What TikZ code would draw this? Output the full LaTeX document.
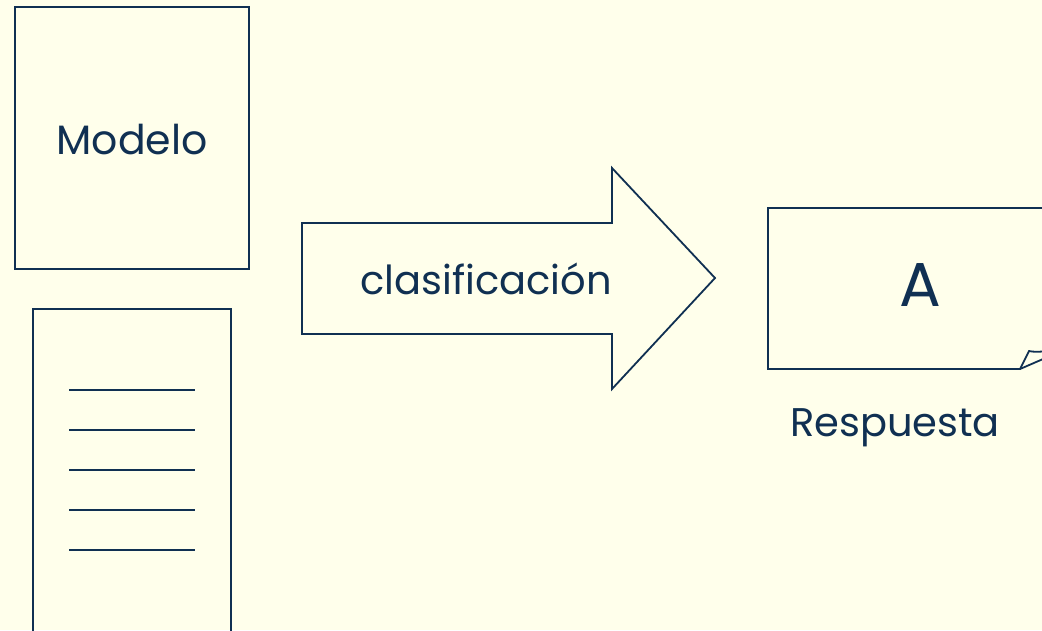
\documentclass[tikz,border=0pt]{standalone}
\usepackage{fontspec}
\setmainfont{Poppins}
\definecolor{bg}{RGB}{255,255,235}
\definecolor{ink}{RGB}{16,48,82}
\begin{document}
\begin{tikzpicture}[x=1pt,y=-1pt,
  outline/.style={draw=ink,line width=1.8pt},
  rule/.style={draw=ink,line width=2pt},
  lbl/.style={text=ink,inner sep=0pt,anchor=center}]
\fill[bg] (0,0) rectangle (1042,630);
\useasboundingbox (0,0) rectangle (1042,630);
% Modelo box
\draw[outline] (15,7) rectangle (249,269);
\node[lbl,font=\fontsize{41}{48}\selectfont] (modelo) at (132,140) {Modelo};
% document box
\begin{scope}
\clip (0,0) rectangle (1042,630);
\draw[outline] (33,640) -- (33,309) -- (231,309) -- (231,640);
\end{scope}
\foreach \y in {390,430,470,510,550}
  \draw[rule] (69,\y) -- (195,\y);
% arrow
\draw[outline,line join=miter] (302,223) -- (612,223) -- (612,168) -- (715,278) -- (612,389) -- (612,334) -- (302,334) -- cycle;
\node[lbl,font=\fontsize{40}{48}\selectfont] (clas) at (486,279) {clasificación};
% response
\begin{scope}
\clip (0,0) rectangle (1042,630);
\draw[outline] (1050,208) -- (768,208) -- (768,369) -- (1020,369) -- (1029,351) .. controls (1033,352) and (1037,352) .. (1050,351);
\draw[outline] (1020,369) -- (1050,356);
\end{scope}
\node[lbl,font=\fontsize{62}{70}\selectfont] (a) at (920,285) {A};
\node[lbl,font=\fontsize{40}{48}\selectfont] (resp) at (895,428) {Respuesta};
\end{tikzpicture}
\end{document}
